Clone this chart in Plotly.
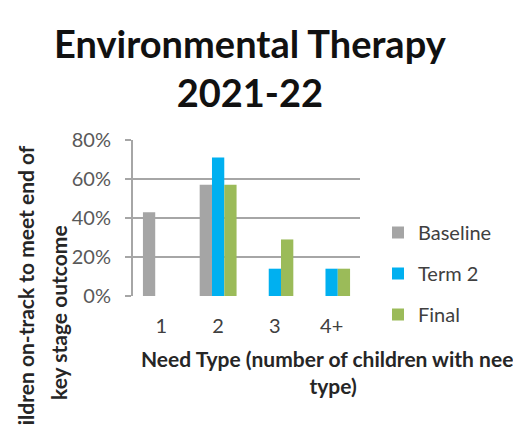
import plotly.graph_objects as go

categories = ["1", "2", "3", "4+"]
baseline = [0.43, 0.57, 0.0, 0.0]
term2 = [0.0, 0.71, 0.14, 0.14]
final = [0.0, 0.57, 0.29, 0.14]
series_names = ["Baseline", "Term 2", "Final"]
colors = ["#A5A5A5", "#00B0F0", "#9BBB59"]
y_ticks = [0, 0.2, 0.4, 0.6, 0.8]

FONT = "Lato"
fig = go.Figure()
for i, (name, vals, col) in enumerate(zip(series_names, [baseline, term2, final], colors)):
    fig.add_trace(go.Bar(x=categories, y=vals, name=name, marker=dict(color=col, line=dict(width=0)),
                         legendgroup=name))

W, H = 513, 426
L, R, T, B = 133, 153, 140, 130
ph = H - T - B
pw = W - L - R

fig.update_layout(
    width=W, height=H,
    margin=dict(l=L, r=R, t=T, b=B, pad=0),
    paper_bgcolor="white", plot_bgcolor="white",
    barmode="group", bargap=0.35, bargroupgap=0,
    font=dict(family=FONT, size=20, color="#595959"),
    showlegend=True,
    legend=dict(x=(378 - L) / pw, xanchor="left", y=(296 - 213) / ph, yanchor="top",
                font=dict(family=FONT, size=20, color="#404040"),
                traceorder="grouped", tracegroupgap=12, itemwidth=30,
                bgcolor="rgba(0,0,0,0)"),
    xaxis=dict(type="category", showgrid=False, showline=False, ticks="",
               tickfont=dict(family=FONT, size=20, color="#404040"), ticklabelstandoff=16),
    yaxis=dict(range=[0, 0.8], tickvals=y_ticks, tickformat=".0%", showgrid=True,
               gridcolor="#A6A6A6", gridwidth=2, showline=True, linecolor="#A6A6A6", linewidth=2,
               ticks="outside", ticklen=6, tickcolor="#A6A6A6", tickwidth=2,
               tickfont=dict(family=FONT, size=20, color="#595959"), ticklabelstandoff=10,
               zeroline=False),
    annotations=[
        dict(text="<b>Environmental Therapy<br>2021-22</b>", xref="paper", yref="paper",
             x=(250 - L) / pw, y=1 + (140 - 68) / ph, xanchor="center", yanchor="middle",
             showarrow=False, font=dict(family=FONT, size=38, color="#111111"), align="center"),
        dict(text="<b>Children on-track to meet end of</b>", xref="paper", yref="paper",
             x=(25 - L) / pw, y=(296 - 298) / ph, xanchor="center", yanchor="middle",
             textangle=-90, showarrow=False, font=dict(family=FONT, size=21, color="#262626")),
        dict(text="<b>key stage outcome</b>", xref="paper", yref="paper",
             x=(58 - L) / pw, y=(296 - 313) / ph, xanchor="center", yanchor="middle",
             textangle=-90, showarrow=False, font=dict(family=FONT, size=21, color="#262626")),
        dict(text="<b>Need Type (number of children with need<br>type)</b>", xref="paper", yref="paper",
             x=(333 - L) / pw, y=(296 - 372) / ph, xanchor="center", yanchor="middle",
             showarrow=False, font=dict(family=FONT, size=21, color="#262626"), align="center"),
    ],
)

fig.write_html("out.html")
